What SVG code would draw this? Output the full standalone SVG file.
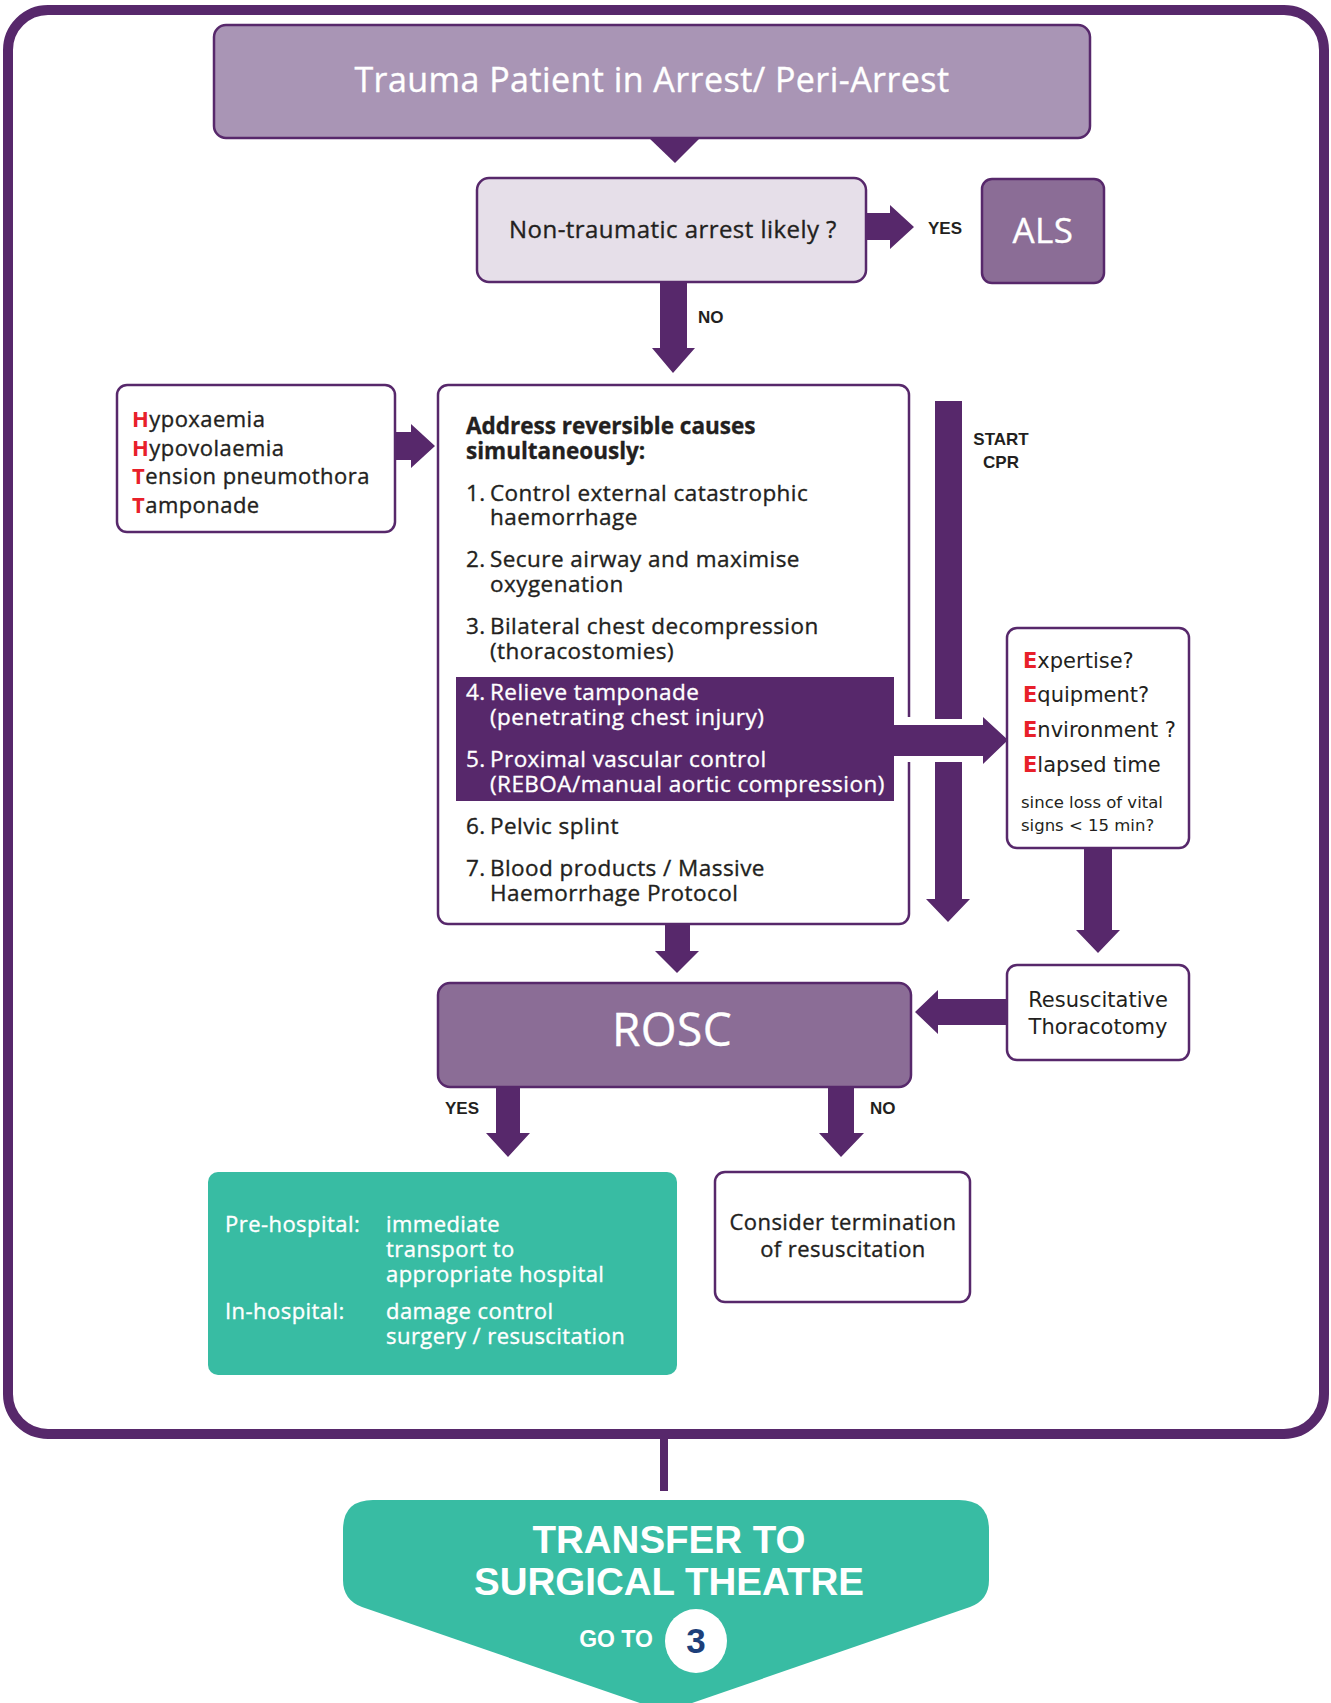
<svg xmlns="http://www.w3.org/2000/svg" width="1331" height="1703" viewBox="0 0 1331 1703">
<style>
.box{stroke:#57286b;stroke-width:2.5}
.w{fill:#ffffff}
.arr{fill:#57286b}
.t{font-family:"Open Sans","Liberation Sans",sans-serif;letter-spacing:0.45px;fill:#231f20;stroke:#231f20;stroke-width:0.35px}
.g{font-family:"DejaVu Sans","Open Sans",sans-serif;fill:#231f20}
.lbl{font-family:"Liberation Sans",Arial,sans-serif;font-weight:bold;font-size:17px;fill:#231f20}
.red{fill:#e8202a;stroke:none;font-weight:bold}
.wt{fill:#ffffff;stroke:#ffffff}
</style>
<rect x="0" y="0" width="1331" height="1703" fill="#ffffff"/>
<rect id="frame" x="8" y="10" width="1316" height="1424" rx="40" fill="none" stroke="#57286b" stroke-width="10"/>

<g id="connectors">
<polygon class="arr" points="649,138 700,138 675,163"/>
<polygon class="arr" points="866,213 890,213 890,205 914,227 890,249 890,240 866,240"/>
<polygon class="arr" points="660,282 687,282 687,348 695,348 673,373 652,348 660,348"/>
<polygon class="arr" points="395,432 411,432 411,424 435,446 411,468 411,460 395,460"/>
<rect class="arr" x="935" y="401" width="27" height="318"/>
<polygon class="arr" points="935,762 962,762 962,899 970,899 948,922 926,899 935,899"/>
<polygon class="arr" points="665,924 690,924 690,951 699,951 677,973 655,951 665,951"/>
<polygon class="arr" points="1084,849 1112,849 1112,930 1120,930 1098,953 1076,930 1084,930"/>
<polygon class="arr" points="1006,999 1006,1025 938,1025 938,1034 915,1012 938,990 938,999"/>
<polygon class="arr" points="496,1087 520,1087 520,1133 530,1133 508,1157 486,1133 496,1133"/>
<polygon class="arr" points="828,1087 854,1087 854,1133 864,1133 841,1157 819,1133 828,1133"/>
<rect class="arr" x="660" y="1437" width="8" height="54"/>
<text class="lbl" x="928" y="234">YES</text>
<text class="lbl" x="698" y="323">NO</text>
<text class="lbl" x="1001" y="445" text-anchor="middle">START</text>
<text class="lbl" x="1001" y="468" text-anchor="middle">CPR</text>
<text class="lbl" x="445" y="1114">YES</text>
<text class="lbl" x="870" y="1114">NO</text>
</g>

<g id="title">
<rect class="box" x="214" y="25" width="876" height="113" rx="12" fill="#a995b5"/>
<text class="t wt" x="652" y="92" font-size="34" text-anchor="middle">Trauma Patient in Arrest/ Peri-Arrest</text>
</g>

<g id="nontraumatic">
<rect class="box" x="477" y="178" width="389" height="104" rx="12" fill="#e6dfe9"/>
<text class="t" x="673" y="238" font-size="24" text-anchor="middle">Non-traumatic arrest likely ?</text>
</g>

<g id="als">
<rect class="box" x="982" y="179" width="122" height="104" rx="10" fill="#8b6d96"/>
<text class="t wt" x="1043" y="243" font-size="35" text-anchor="middle">ALS</text>
</g>

<g id="hhtt">
<rect class="box w" x="117" y="385" width="278" height="147" rx="10"/>
<g class="t" font-size="22">
<text x="132" y="427"><tspan class="red">H</tspan>ypoxaemia</text>
<text x="132" y="456"><tspan class="red">H</tspan>ypovolaemia</text>
<text x="132" y="484"><tspan class="red">T</tspan>ension pneumothora</text>
<text x="132" y="513"><tspan class="red">T</tspan>amponade</text>
</g>
</g>

<g id="reversible">
<rect class="box w" x="438" y="385" width="471" height="539" rx="10"/>
<rect x="900" y="717" width="18" height="45" fill="#ffffff"/>
<rect x="456" y="677" width="438" height="124" fill="#57286b"/>
<polygon class="arr" points="893,725 983,725 983,717 1008,740 983,764 983,756 893,756"/>
<g class="t" font-size="22.5">
<text x="466" y="434" font-weight="bold" letter-spacing="0">Address reversible causes</text>
<text x="466" y="459" font-weight="bold" letter-spacing="0">simultaneously:</text>
<text x="466" y="501">1.</text><text x="490" y="501">Control external catastrophic</text>
<text x="490" y="525">haemorrhage</text>
<text x="466" y="567">2.</text><text x="490" y="567">Secure airway and maximise</text>
<text x="490" y="592">oxygenation</text>
<text x="466" y="634">3.</text><text x="490" y="634">Bilateral chest decompression</text>
<text x="490" y="659">(thoracostomies)</text>
<text x="466" y="700" class="wt">4.</text><text x="490" y="700" class="wt">Relieve tamponade</text>
<text x="490" y="725" class="wt">(penetrating chest injury)</text>
<text x="466" y="767" class="wt">5.</text><text x="490" y="767" class="wt">Proximal vascular control</text>
<text x="490" y="792" class="wt">(REBOA/manual aortic compression)</text>
<text x="466" y="834">6.</text><text x="490" y="834">Pelvic splint</text>
<text x="466" y="876">7.</text><text x="490" y="876">Blood products / Massive</text>
<text x="490" y="901">Haemorrhage Protocol</text>
</g>
</g>

<g id="eeee">
<rect class="box w" x="1007" y="628" width="182" height="220" rx="10"/>
<g class="g" font-size="21">
<text x="1023" y="668"><tspan class="red">E</tspan>xpertise?</text>
<text x="1023" y="702"><tspan class="red">E</tspan>quipment?</text>
<text x="1023" y="737"><tspan class="red">E</tspan>nvironment ?</text>
<text x="1023" y="772"><tspan class="red">E</tspan>lapsed time</text>
<text x="1021" y="808" font-size="16.5">since loss of vital</text>
<text x="1021" y="831" font-size="16.5">signs &lt; 15 min?</text>
</g>
</g>

<g id="thoracotomy">
<rect class="box w" x="1007" y="965" width="182" height="95" rx="10"/>
<text class="g" x="1098" y="1007" font-size="21" text-anchor="middle">Resuscitative</text>
<text class="g" x="1098" y="1034" font-size="21" text-anchor="middle">Thoracotomy</text>
</g>

<g id="rosc">
<rect class="box" x="438" y="983" width="473" height="104" rx="12" fill="#8b6d96"/>
<text class="t wt" x="672" y="1046" font-size="46" text-anchor="middle">ROSC</text>
</g>

<g id="yesbox">
<rect x="208" y="1172" width="469" height="203" rx="10" fill="#38bca3"/>
<g class="t wt" font-size="22">
<text x="225" y="1232">Pre-hospital:</text>
<text x="386" y="1232">immediate</text>
<text x="386" y="1257">transport to</text>
<text x="386" y="1282">appropriate hospital</text>
<text x="225" y="1319">In-hospital:</text>
<text x="386" y="1319">damage control</text>
<text x="386" y="1344">surgery / resuscitation</text>
</g>
</g>

<g id="termination">
<rect class="box w" x="715" y="1172" width="255" height="130" rx="10"/>
<text class="t" x="843" y="1230" font-size="22" text-anchor="middle">Consider termination</text>
<text class="t" x="843" y="1257" font-size="22" text-anchor="middle">of resuscitation</text>
</g>

<g id="transfer">
<path d="M373,1500 H959 Q989,1500 989,1530 V1580 Q989,1600 970,1607 L666,1712 L362,1607 Q343,1600 343,1580 V1530 Q343,1500 373,1500 Z" fill="#38bca3"/>
<g font-family="'Liberation Sans',Arial,sans-serif" font-weight="bold" fill="#ffffff" text-anchor="middle">
<text x="669" y="1553" font-size="38.5">TRANSFER TO</text>
<text x="669" y="1595" font-size="38.5">SURGICAL THEATRE</text>
<text x="616" y="1647" font-size="23">GO TO</text>
</g>
<ellipse cx="696" cy="1641" rx="31" ry="32" fill="#ffffff"/>
<text x="696" y="1653" font-family="'Liberation Sans',Arial,sans-serif" font-weight="bold" font-size="35" fill="#1d3f7a" text-anchor="middle">3</text>
</g>
</svg>
